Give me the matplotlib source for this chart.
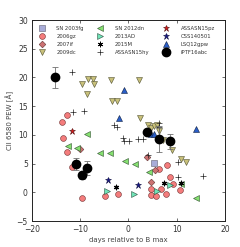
import matplotlib
matplotlib.use("Agg")
import matplotlib.pyplot as plt
import numpy as np

# ---- data (days relative to B max, CII 6580 PEW in Angstrom) ----
sn2003fg_d = [5.3]
sn2003fg_v = [5.1]

sn2006gz_d = [-13.7, -12.8, -13.6, -12.7, -11.7, -9.6, -4.9, -2.1, 4.7, 4.6, 5.7, 6.8, 7.7, 7.9, 8.6, 9.3, 10.8, 6.4]
sn2006gz_v = [12.3, 13.4, 9.4, 7.0, 4.4, -0.9, -0.6, -0.3, 0.5, -0.5, -0.6, 0.5, -0.3, 4.7, 2.7, 1.4, 0.35, 4.1]

sn2007if_d = [-10.1, 3.8, 5.6, 4.6]
sn2007if_v = [7.5, 6.2, 3.9, 1.8]

sn2009dc_d = [-9.6, -8.3, -7.3, -7.1, -8.5, -3.6, 2.3, -3.4, -2.3, 2.4, 4.1, 4.7, 5.3, 5.9, 6.3, 7.2, 9.0, 11.0, 11.9]
sn2009dc_v = [18.8, 19.7, 19.7, 18.8, 17.2, 19.5, 19.5, 15.9, 15.9, 12.9, 11.8, 11.2, 11.6, 11.7, 10.6, 9.1, 7.3, 5.8, 5.2]

sn2012dn_d = [-8.6, -12.6, -10.6, -5.9, -3.8, -0.7, 1.3, 4.2, 11.0, 14.0]
sn2012dn_v = [10.1, 8.0, 7.8, 6.8, 6.8, 5.4, 5.0, 3.6, 1.4, -0.9]

sn2013ad_d = [-4.5, 1.2, 5.9, 8.6]
sn2013ad_v = [0.2, -0.3, 0.2, 1.3]

sn2015m_d = [-2.6, 7.3, 10.9]
sn2015m_v = [1.0, 1.7, 1.6]

asn15hy_d = [-11.6, -11.4, -9.2, -2.9, -2.4, -1.2, -0.9, 0.1, 2.0, 3.1, 6.4, 6.4, 10.2, 15.4, 10.2, 4.1]
asn15hy_v = [21.0, 13.9, 14.2, 11.7, 11.3, 9.5, 9.0, 9.0, 9.2, 9.2, 12.1, 11.4, 5.3, 2.9, 2.6, 6.5]

asn15pz_d = [-11.7]
asn15pz_v = [10.6]

css140501_d = [-4.3, 1.9]
css140501_v = [2.1, 1.3]

lsq12gpw_d = [-1.0, -1.9, 4.7, 5.3, 14.1]
lsq12gpw_v = [17.9, 12.9, 10.1, 10.1, 11.1]

iptf16abc_d = [-15.2, -10.8, -9.7, -8.6, 3.8, 6.4, 8.6]
iptf16abc_v = [20.0, 4.9, 3.0, 4.2, 10.5, 9.3, 8.9]
iptf16abc_e = [1.9, 1.0, 0.6, 1.2, 0.4, 2.3, 1.3]

x_ticks = [-20, -10, 0, 10, 20]
y_ticks = [-5, 0, 5, 10, 15, 20, 25, 30]

# ---- figure ----
fig = plt.figure(figsize=(2.40, 2.47), dpi=100)
ax = fig.add_axes([0.133, 0.105, 0.804, 0.814])

lw = 0.4
handles = []
h = ax.plot(sn2003fg_d, sn2003fg_v, ls='none', marker='s', ms=4, mfc='#a8acd8', mec='#606070', mew=lw, label='SN 2003fg')[0]
handles.append(h)
h = ax.plot(sn2006gz_d, sn2006gz_v, ls='none', marker='o', ms=4.2, mfc='#f47c7c', mec='#703030', mew=lw, label='2006gz')[0]
handles.append(h)
h = ax.plot(sn2007if_d, sn2007if_v, ls='none', marker='D', ms=3.4, mfc='#cc7272', mec='#603030', mew=lw, label='2007if')[0]
handles.append(h)
h = ax.plot(sn2009dc_d, sn2009dc_v, ls='none', marker='v', ms=4.6, mfc='#c8c07a', mec='#505030', mew=lw, label='2009dc')[0]
handles.append(h)
h = ax.plot(sn2012dn_d, sn2012dn_v, ls='none', marker='<', ms=4.6, mfc='#86e070', mec='#305030', mew=lw, label='SN 2012dn')[0]
handles.append(h)
h = ax.plot(sn2013ad_d, sn2013ad_v, ls='none', marker='>', ms=4.6, mfc='#70e4b8', mec='#305040', mew=lw, label='2013AD')[0]
handles.append(h)
ax.plot(sn2015m_d, sn2015m_v, ls='none', marker='o', ms=3.2, mfc='#909090', mec='none')
h = ax.plot(sn2015m_d, sn2015m_v, ls='none', marker=(6, 2, 0), ms=4, mfc='k', mec='k', mew=0.6, label='2015M')[0]
handles.append(h)
h = ax.plot(asn15hy_d, asn15hy_v, ls='none', marker='+', ms=5, mec='#202020', mew=0.5, label='ASSASN15hy')[0]
handles.append(h)
h = ax.plot(asn15pz_d, asn15pz_v, ls='none', marker='*', ms=5, mfc='#e01818', mec='#501010', mew=lw, label='ASSASN15pz')[0]
handles.append(h)
h = ax.plot(css140501_d, css140501_v, ls='none', marker='*', ms=5, mfc='#14148c', mec='#101040', mew=lw, label='CSS140501')[0]
handles.append(h)
h = ax.plot(lsq12gpw_d, lsq12gpw_v, ls='none', marker='^', ms=4.8, mfc='#2a5ec8', mec='#102040', mew=lw, label='LSQ12gpw')[0]
handles.append(h)
ax.errorbar(iptf16abc_d, iptf16abc_v, yerr=iptf16abc_e, fmt='o', ms=6, mfc='k', mec='k',
            ecolor='#707070', elinewidth=0.6, capsize=2.5, capthick=0.6, label='iPTF16abc')
handles.append(ax.plot([], [], ls='none', marker='o', ms=6, mfc='k', mec='k')[0])

ax.set_xlim(-20, 20)
ax.set_ylim(-5, 30)
ax.set_xticks(x_ticks)
ax.set_yticks(y_ticks)
ax.tick_params(direction='in', top=True, right=True, labelsize=5.5, length=2.5, width=0.5, pad=3, colors='#333333')
for s in ax.spines.values():
    s.set_linewidth(0.7)
    s.set_color('#222222')
ax.set_xlabel('days relative to B max', fontsize=5, color='#444444', labelpad=2)
ax.set_ylabel('CII 6580 PEW [Å]', fontsize=5, color='#444444', labelpad=2)

labels = ['SN 2003fg', '2006gz', '2007if', '2009dc', 'SN 2012dn', '2013AD', '2015M',
          'ASSASN15hy', 'ASSASN15pz', 'CSS140501', 'LSQ12gpw', 'iPTF16abc']
leg = ax.legend(handles, labels, ncol=3, loc='upper left', bbox_to_anchor=(0.02, 0.985), frameon=False,
                fontsize=3.8, handlelength=1.0, handletextpad=2.3, columnspacing=2.6,
                labelspacing=0.55, borderaxespad=0.2)
for t in leg.get_texts():
    t.set_color('#333333')

fig.savefig('out.png', dpi=100)
